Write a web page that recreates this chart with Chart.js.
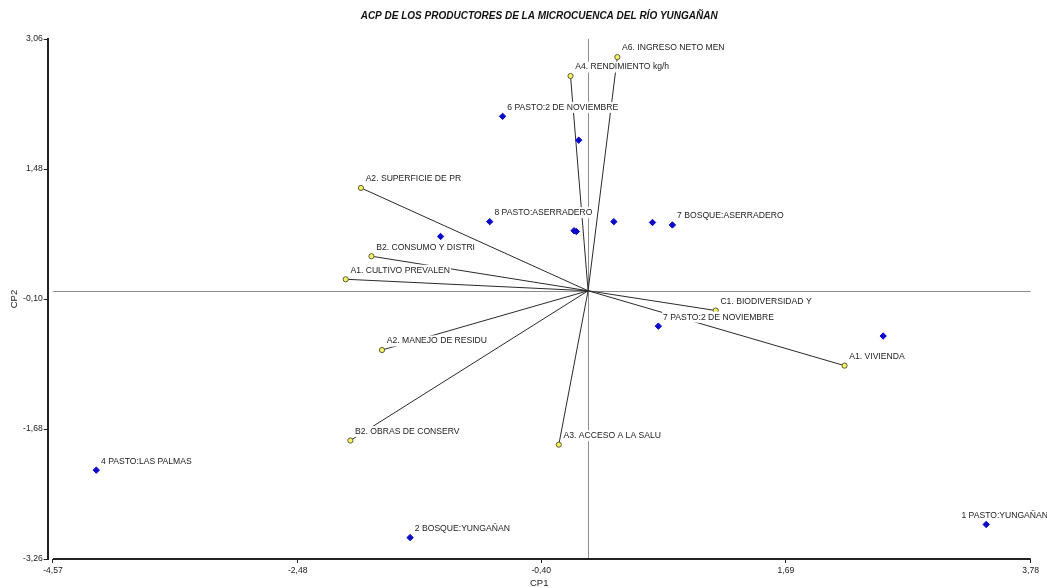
<!DOCTYPE html>
<html>
<head>
<meta charset="utf-8">
<script src="https://cdn.jsdelivr.net/npm/chart.js@4/dist/chart.umd.min.js"></script>
<style>
  html, body { margin: 0; padding: 0; background: #fff; }
  #wrap { width: 1047px; height: 588px; }
</style>
</head>
<body>
<div id="wrap"><canvas id="biplot" width="1047" height="588"></canvas></div>
<script>
// Axis ticks (CP1 horizontal, CP2 vertical)
const xTicks = [-4.57, -2.48, -0.40, 1.69, 3.78];
const yTicks = [-3.26, -1.68, -0.10, 1.48, 3.06];

// Producer scores (observations)
const obsNames = ['6 PASTO:2 DE NOVIEMBRE', '', '8 PASTO:ASERRADERO', '', '', '', '', '',
                  '7 BOSQUE:ASERRADERO', '7 PASTO:2 DE NOVIEMBRE', '', '4 PASTO:LAS PALMAS',
                  '2 BOSQUE:YUNGAÑAN', '1 PASTO:YUNGAÑAN'];
const obsCP1 = [-0.73, -0.08, -0.84, -1.26, -0.12, -0.10, 0.22, 0.55, 0.72, 0.60, 2.52, -4.20, -1.52, 3.40];
const obsCP2 = [2.12, 1.83, 0.84, 0.66, 0.73, 0.72, 0.84, 0.83, 0.80, -0.43, -0.55, -2.18, -3.00, -2.84];

// Variable loadings (vectors from the origin)
const varNames = ['A6. INGRESO NETO MEN', 'A4. RENDIMIENTO kg/h', 'A2. SUPERFICIE DE PR',
                  'B2. CONSUMO Y DISTRI', 'A1. CULTIVO PREVALEN', 'A2. MANEJO DE RESIDU',
                  'B2. OBRAS DE CONSERV', 'A3. ACCESO A LA SALU', 'A1. VIVIENDA', 'C1. BIODIVERSIDAD Y'];
const varCP1 = [0.25, -0.15, -1.94, -1.85, -2.07, -1.76, -2.03, -0.25, 2.19, 1.09];
const varCP2 = [2.84, 2.61, 1.25, 0.42, 0.14, -0.72, -1.82, -1.87, -0.91, -0.24];

const titleText = 'ACP DE LOS PRODUCTORES DE LA MICROCUENCA DEL RÍO YUNGAÑAN';
const xTitle = 'CP1';
const yTitle = 'CP2';

const FONT = '"Liberation Sans", Arial, sans-serif';
const fmt = v => v.toFixed(2).replace('.', ',');

// Gray reference lines through the origin plus the bottom axis line
const originLines = {
  id: 'originLines',
  beforeDatasetsDraw(chart) {
    const {ctx, scales: {x, y}} = chart;
    const x0 = x.getPixelForValue(0), y0 = y.getPixelForValue(0);
    const xl = x.getPixelForValue(xTicks[0]), xr = x.getPixelForValue(xTicks[xTicks.length - 1]);
    ctx.save();
    ctx.strokeStyle = '#8c8c8c';
    ctx.lineWidth = 1;
    ctx.beginPath();
    ctx.moveTo(xl, Math.round(y0) + 0.5); ctx.lineTo(xr, Math.round(y0) + 0.5);
    ctx.moveTo(Math.round(x0) + 0.5, y.top); ctx.lineTo(Math.round(x0) + 0.5, y.bottom);
    ctx.stroke();
    // bottom axis, starting at the first tick
    ctx.strokeStyle = '#222';
    ctx.lineWidth = 2;
    ctx.beginPath();
    ctx.moveTo(xl, y.bottom); ctx.lineTo(xr, y.bottom);
    ctx.stroke();
    ctx.restore();
  }
};

// Point labels on a white box, drawn above lines and markers
const pointLabels = {
  id: 'pointLabels',
  afterDatasetsDraw(chart, args, opts) {
    const {ctx, scales: {x, y}} = chart;
    ctx.save();
    ctx.font = '8.6px ' + FONT;
    ctx.textBaseline = 'middle';
    ctx.textAlign = 'left';
    const put = (name, vx, vy) => {
      if (!name) return;
      const px = x.getPixelForValue(vx) + 4.7 + (opts.nudge[name] || 0);
      const py = y.getPixelForValue(vy) - 9;
      const w = ctx.measureText(name).width;
      ctx.fillStyle = '#fff';
      ctx.fillRect(px - 1, py - 5.5, w + 2, 11);
      ctx.fillStyle = '#222';
      ctx.fillText(name, px, py);
    };
    varNames.forEach((n, i) => put(n, varCP1[i], varCP2[i]));
    obsNames.forEach((n, i) => put(n, obsCP1[i], obsCP2[i]));
    ctx.restore();
  }
};

const vectorSets = varNames.map((n, i) => ({
  type: 'scatter',
  showLine: true,
  data: [{x: 0, y: 0}, {x: varCP1[i], y: varCP2[i]}],
  borderColor: '#2a2a2a',
  borderWidth: 1,
  pointRadius: 0,
  order: 3
}));

new Chart(document.getElementById('biplot'), {
  type: 'scatter',
  data: {
    datasets: [
      ...vectorSets,
      {
        data: varCP1.map((v, i) => ({x: v, y: varCP2[i]})),
        pointStyle: 'circle',
        pointRadius: 2.6,
        backgroundColor: '#f6f36a',
        borderColor: '#5c5a2e',
        borderWidth: 1,
        order: 2
      },
      {
        data: obsCP1.map((v, i) => ({x: v, y: obsCP2[i]})),
        pointStyle: 'rectRot',
        pointRadius: 3.2,
        backgroundColor: '#0a0ac8',
        borderColor: '#0a0ac8',
        borderWidth: 1,
        order: 1
      }
    ]
  },
  options: {
    responsive: false,
    animation: false,
    events: [],
    layout: { padding: { right: 16.3, left: 0, top: 0, bottom: 0 } },
    plugins: {
      legend: { display: false },
      tooltip: { enabled: false },
      title: {
        display: true,
        text: titleText,
        fullSize: false,
        color: '#111',
        font: { family: FONT, size: 10, weight: 'bold', style: 'italic', lineHeight: 1.2 },
        padding: { top: 10, bottom: 17 }
      },
      pointLabels: { nudge: { '1 PASTO:YUNGAÑAN': -29.5 } }
    },
    scales: {
      x: {
        type: 'linear',
        min: xTicks[0] - 0.045,
        max: xTicks[xTicks.length - 1],
        afterBuildTicks: s => { s.ticks = xTicks.map(v => ({value: v})); },
        afterFit: s => { s.height = 29; },
        border: { display: false },
        grid: { drawOnChartArea: false, color: '#222', tickLength: 4, lineWidth: 1 },
        ticks: {
          color: '#222', padding: 2, maxRotation: 0, autoSkip: false,
          font: { family: FONT, size: 8.6 },
          callback: v => fmt(v)
        },
        title: {
          display: true, text: xTitle, color: '#222',
          font: { family: FONT, size: 9.5, lineHeight: 1 },
          padding: { top: 0, bottom: 0 }
        }
      },
      y: {
        type: 'linear',
        min: yTicks[0],
        max: yTicks[yTicks.length - 1],
        afterBuildTicks: s => { s.ticks = yTicks.map(v => ({value: v})); },
        afterFit: s => { s.width = 47.7; },
        border: { display: true, color: '#222', width: 2 },
        grid: { drawOnChartArea: false, color: '#222', tickLength: 4, lineWidth: 1 },
        ticks: {
          color: '#222', padding: 1, autoSkip: false,
          font: { family: FONT, size: 8.6 },
          callback: v => fmt(v)
        },
        title: {
          display: true, text: yTitle, color: '#222',
          font: { family: FONT, size: 9.5, lineHeight: 1 },
          padding: { top: 10, bottom: 0 }
        }
      }
    }
  },
  plugins: [originLines, pointLabels]
});
</script>
</body>
</html>
